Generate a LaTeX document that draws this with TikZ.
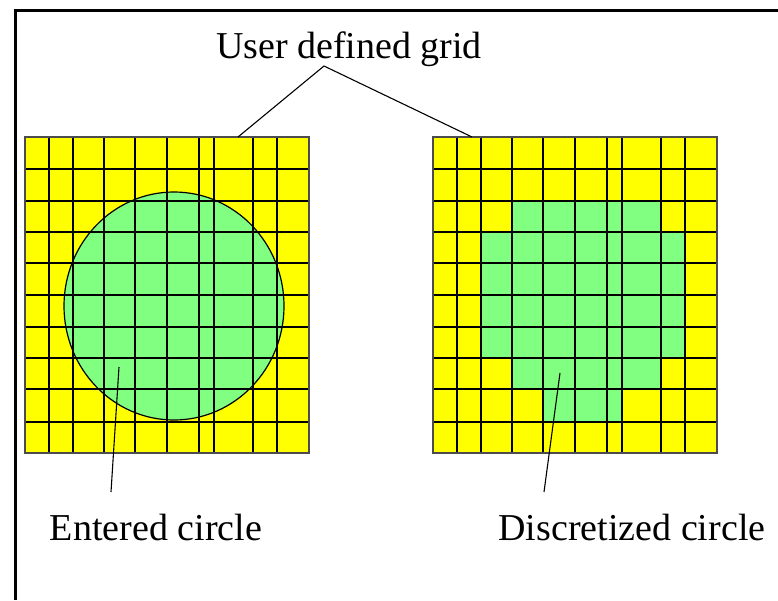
\documentclass[tikz,border=0pt]{standalone}
\usepackage{fontspec}
\setmainfont{Liberation Serif}
\usetikzlibrary{calc}

\definecolor{cellyellow}{RGB}{255,255,0}
\definecolor{cellgreen}{RGB}{128,255,128}
\tikzset{
  gridline/.style={black,line width=1.2pt},
  gridframe/.style={gray!60!black,line width=1.2pt},
  leader/.style={black,line width=1.1pt},
  caption/.style={inner sep=0pt,font=\fontsize{38}{40}\selectfont},
}
% uneven column and row offsets of the user grid (px)
\newcommand{\gridcols}{0,24,48,79,110,142,174,189,228,252,284}
\newcommand{\gridrows}{0,32,64,95,126,158,190,221,252,285,316}

\begin{document}
\begin{tikzpicture}[x=1pt,y=-1pt]
  \useasboundingbox (0,0) rectangle (778,600);
  % Frame: only left and top edges show
  \draw[line width=3pt] (15,600) -- (15,10.5) -- (778,10.5);
  % Left grid with the entered circle
  \begin{scope}[shift={(25,137)}]
    \fill[cellyellow] (0,0) rectangle (284,316);
    \filldraw[fill=cellgreen,draw=black,line width=1.2pt]
      (149,169) ellipse [x radius=110pt,y radius=114pt];
    \foreach \c in \gridcols{
      \draw[gridline] (\c,0) -- (\c,316);
    }
    \foreach \r in \gridrows{
      \draw[gridline] (0,\r) -- (284,\r);
    }
    \draw[gridframe] (0,0) rectangle (284,316);
  \end{scope}
  % Right grid with the discretized circle
  \begin{scope}[shift={(433,137)}]
    \fill[cellyellow] (0,0) rectangle (284,316);
    \fill[cellgreen] (79,64) -- (228,64) -- (228,95) -- (252,95) -- (252,221)
      -- (228,221) -- (228,252) -- (189,252) -- (189,285) -- (110,285)
      -- (110,252) -- (79,252) -- (79,221) -- (48,221) -- (48,95)
      -- (79,95) -- cycle;
    \foreach \c in \gridcols{
      \draw[gridline] (\c,0) -- (\c,316);
    }
    \foreach \r in \gridrows{
      \draw[gridline] (0,\r) -- (284,\r);
    }
    \draw[gridframe] (0,0) rectangle (284,316);
  \end{scope}
  % Labels
  \node[caption,anchor=base] (lblgrid) at (349,58) {User defined grid};
  \node[caption,anchor=base] (lblentered) at (156,540) {Entered circle};
  \node[caption,anchor=base] (lbldiscrete) at (632,540) {Discretized circle};
  % Leader lines
  \coordinate (apex) at (324,66);
  \coordinate (leftgrid) at (238,137);
  \coordinate (rightgrid) at (472,137);
  \draw[leader] (leftgrid) -- (apex) -- (rightgrid);
  \coordinate (enteredpt) at (119,367);
  \coordinate (enteredend) at (111,492);
  \draw[leader] (enteredpt) -- (enteredend);
  \coordinate (discretept) at (560,373);
  \coordinate (discreteend) at (544,492);
  \draw[leader] (discretept) -- (discreteend);
\end{tikzpicture}
\end{document}
